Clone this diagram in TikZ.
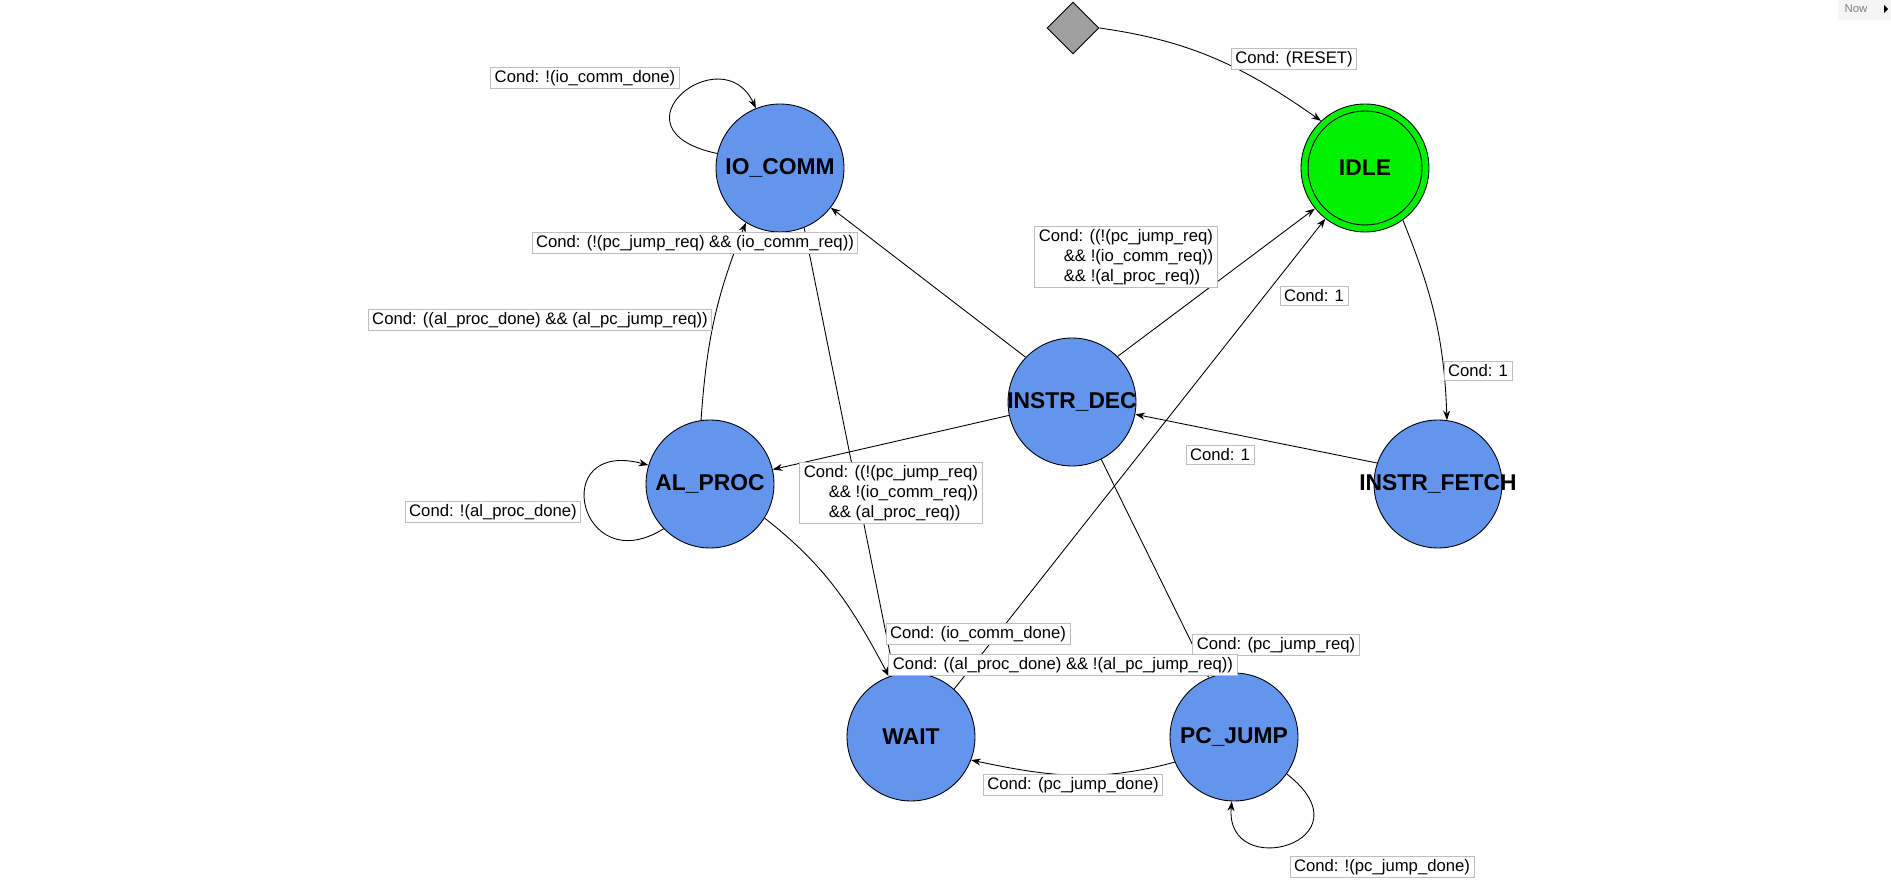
\documentclass[tikz,border=0pt]{standalone}
\usepackage{fontspec}
\setmainfont{Liberation Sans}
\usetikzlibrary{shapes, arrows.meta}

\definecolor{stateblue}{RGB}{100,149,237}
\definecolor{idlegreen}{RGB}{0,240,0}
\definecolor{boxgray}{RGB}{190,190,190}
\newcommand{\sname}[1]{\makebox[0pt]{#1}}

\begin{document}
\begin{tikzpicture}[x=0.02cm, y=0.02cm, line width=0.5pt,
    main/.style = {draw, circle, fill=stateblue, minimum size=2.56cm, inner sep=0pt, font=\fontsize{13}{15}\selectfont\bfseries},
    cond/.style = {draw=boxgray, fill=white, inner xsep=0.08cm, inner ysep=0.06cm, align=left, font=\fontsize{9.5}{11.3}\selectfont},
    trans/.style = {-{Stealth[length=5.5pt, width=4pt]}}]
    \useasboundingbox (0,0) rectangle (1891,883);

    % states
    \node[draw, diamond, fill=gray!75, minimum size=1.04cm, inner sep=0pt] (start) at (1073,855) {};
    \node[main, fill=idlegreen] (idle) at (1365,715) {\sname{IDLE}};
    \node[draw, circle, minimum size=2.28cm, inner sep=0pt] (idlein) at (idle.center) {};
    \node[main] (io) at (780,715) {\sname{IO\_COMM}};
    \node[main] (dec) at (1072,481) {\sname{INSTR\_DEC}};
    \node[main] (fetch) at (1438,399) {\sname{INSTR\_FETCH}};
    \node[main] (alproc) at (710,399) {\sname{AL\_PROC}};
    \node[main] (wait) at (911,146) {\sname{WAIT}};
    \node[main] (pcjump) at (1234,146) {\sname{PC\_JUMP}};

    % transitions
    \draw[trans] (start.east) to[out=-8, in=145] (idle.133);
    \draw[trans] (idle.-54) to[out=-68, in=92] (fetch.82);
    \draw[trans] (fetch.161) -- (dec.-11);
    \draw[trans] (dec.45) -- (idle.219);
    \draw[trans] (wait.48) -- (idle.232);
    \draw[trans] (dec.136) -- (io.-38);
    \draw[trans] (dec.192) -- (alproc.13);
    \draw[trans] (dec.-63) -- (pcjump.113);
    \draw[trans] (io.-68) -- (wait.105);
    \draw[trans] (alproc.98) to[out=86, in=248] (io.238);
    \draw[trans] (alproc.-32) to[out=-38, in=118] (wait.110);
    \draw[trans] (pcjump.203) to[out=195, in=-12] (wait.-21);
    \draw[trans] (io.167) .. controls +(168:115) and +(115:80) .. (io.112);
    \draw[trans] (alproc.224) .. controls +(212:100) and +(165:105) .. (alproc.163);
    \draw[trans] (pcjump.-35) .. controls +(-38:110) and +(-95:82) .. (pcjump.-92);

    % conditions
    \node[cond] (reset) at (1294,824) {Cond: (RESET)};
    \node[cond] (iodoneloop) at (585,805) {Cond: !(io\_comm\_done)};
    \node[cond] (ioreq) at (695,640) {Cond: (!(pc\_jump\_req) \&\& (io\_comm\_req))};
    \node[cond] (idlereq) at (1126,626) {Cond: ((!(pc\_jump\_req)\\\hspace*{1.5em}\&\& !(io\_comm\_req))\\\hspace*{1.5em}\&\& !(al\_proc\_req))};
    \node[cond] (waitidle) at (1314,587) {Cond: 1};
    \node[cond] (aljump) at (540,563) {Cond: ((al\_proc\_done) \&\& (al\_pc\_jump\_req))};
    \node[cond] (idlefetch) at (1478,512) {Cond: 1};
    \node[cond] (fetchdec) at (1220,428) {Cond: 1};
    \node[cond] (alreq) at (891,390) {Cond: ((!(pc\_jump\_req)\\\hspace*{1.5em}\&\& !(io\_comm\_req))\\\hspace*{1.5em}\&\& (al\_proc\_req))};
    \node[cond] (aldoneloop) at (493,371) {Cond: !(al\_proc\_done)};
    \node[cond] (iodone) at (978,249) {Cond: (io\_comm\_done)};
    \node[cond] (pcreq) at (1276,238) {Cond: (pc\_jump\_req)};
    \node[cond] (alnojump) at (1063,218) {Cond: ((al\_proc\_done) \&\& !(al\_pc\_jump\_req))};
    \node[cond] (pcdone) at (1073,98) {Cond: (pc\_jump\_done)};
    \node[cond] (pcdoneloop) at (1382,16) {Cond: !(pc\_jump\_done)};

    % corner widget
    \fill[gray!8] (1838,883) rectangle (1891,863);
    \node[text=gray, font=\fontsize{6.5}{8}\selectfont, inner sep=0pt] (now) at (1856,874) {Now};
    \fill (1884,878) -- (1888,874) -- (1884,870) -- cycle;
\end{tikzpicture}
\end{document}
